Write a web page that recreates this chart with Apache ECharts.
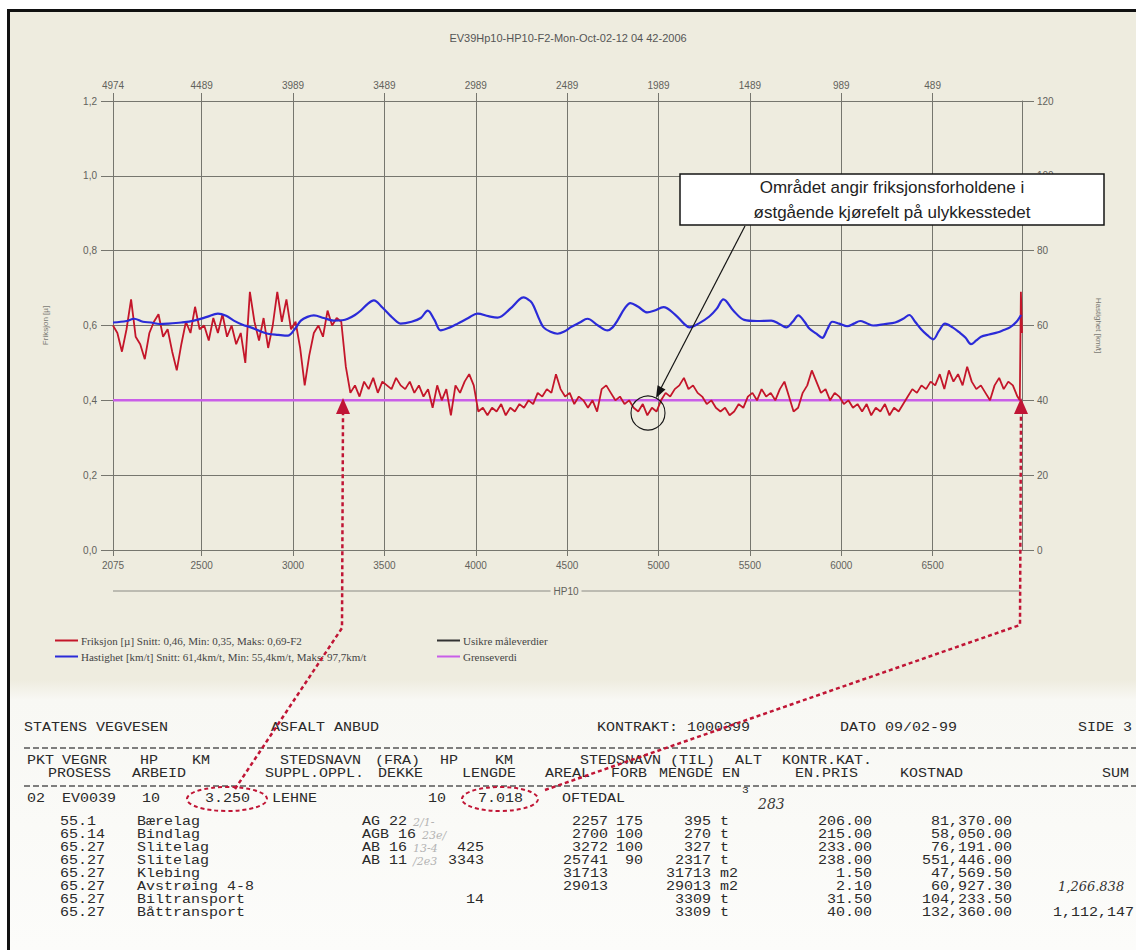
<!DOCTYPE html>
<html><head><meta charset="utf-8">
<script src="https://cdn.jsdelivr.net/npm/echarts@6/dist/echarts.min.js"></script>
<style>
html,body{margin:0;padding:0;width:1136px;height:950px;overflow:hidden;background:#fff;}
#paper{position:absolute;left:7px;top:9px;width:1129px;height:941px;border-left:3px solid #111;border-top:3px solid #111;box-sizing:border-box;background:linear-gradient(to bottom,#eeecdf 0px,#eeecdf 668px,#f8f8f4 688px,#fcfcfa 100%);}
#chart{position:absolute;left:0;top:0;width:1136px;height:950px;}
</style></head><body><div id="paper"></div><div id="chart"></div>
<script>
// ---------------- DATA ----------------
const chartTitle = 'EV39Hp10-HP10-F2-Mon-Oct-02-12 04 42-2006';
const topDistTicks = [4974, 4489, 3989, 3489, 2989, 2489, 1989, 1489, 989, 489];
const hpTickLabels = ['2075','2500','3000','3500','4000','4500','5000','5500','6000','6500'];
const distMin = 0, distMax = 4974;
const frictionAxis = {min:0, max:1.2, step:0.2};
const speedAxis = {min:0, max:120, step:20};
const seriesNames = [
  'Friksjon [µ] Snitt: 0,46, Min: 0,35, Maks: 0,69-F2',
  'Hastighet [km/t] Snitt: 61,4km/t, Min: 55,4km/t, Maks: 97,7km/t',
  'Usikre måleverdier',
  'Grenseverdi'
];
const axisNames = ['Friksjon [µ]', 'Hastighet [km/t]', 'HP10'];
const limitValue = 0.4;

// [distance, friction µ]
const friction = [
[4974,0.60],[4950,0.58],[4925,0.53],[4900,0.59],[4875,0.67],[4850,0.57],[4825,0.55],[4800,0.51],[4775,0.58],[4750,0.61],
[4725,0.63],[4700,0.57],[4675,0.59],[4650,0.53],[4625,0.48],[4600,0.55],[4575,0.61],[4550,0.58],[4525,0.65],[4500,0.59],
[4475,0.60],[4450,0.56],[4425,0.62],[4400,0.58],[4375,0.63],[4350,0.57],[4325,0.60],[4300,0.55],[4275,0.58],[4250,0.50],
[4225,0.69],[4200,0.61],[4175,0.56],[4150,0.62],[4125,0.54],[4100,0.60],[4075,0.69],[4050,0.61],[4025,0.67],[4000,0.59],
[3975,0.61],[3950,0.54],[3925,0.44],[3900,0.52],[3875,0.58],[3850,0.60],[3825,0.57],[3800,0.64],[3775,0.60],[3750,0.62],
[3725,0.61],[3700,0.49],[3675,0.42],[3650,0.44],[3625,0.41],[3600,0.45],[3575,0.43],[3550,0.46],[3525,0.42],[3500,0.45],
[3475,0.44],[3450,0.43],[3425,0.46],[3400,0.44],[3375,0.43],[3350,0.45],[3325,0.42],[3300,0.44],[3275,0.41],[3250,0.43],
[3225,0.38],[3200,0.44],[3175,0.40],[3150,0.43],[3125,0.36],[3100,0.44],[3075,0.42],[3050,0.45],[3025,0.47],[3000,0.44],
[2975,0.37],[2950,0.38],[2925,0.36],[2900,0.38],[2875,0.37],[2850,0.39],[2825,0.36],[2800,0.38],[2775,0.37],[2750,0.39],
[2725,0.38],[2700,0.40],[2675,0.39],[2650,0.42],[2625,0.41],[2600,0.43],[2575,0.42],[2550,0.47],[2525,0.43],[2500,0.41],
[2475,0.42],[2450,0.39],[2425,0.41],[2400,0.40],[2375,0.38],[2350,0.40],[2325,0.37],[2300,0.43],[2275,0.44],[2250,0.42],
[2225,0.40],[2200,0.41],[2175,0.39],[2150,0.40],[2125,0.38],[2100,0.37],[2075,0.39],[2050,0.36],[2025,0.38],[2000,0.37],
[1975,0.40],[1950,0.42],[1925,0.41],[1900,0.43],[1875,0.44],[1850,0.46],[1825,0.43],[1800,0.44],[1775,0.42],[1750,0.41],
[1725,0.39],[1700,0.40],[1675,0.38],[1650,0.37],[1625,0.38],[1600,0.36],[1575,0.37],[1550,0.39],[1525,0.38],[1500,0.41],
[1475,0.42],[1450,0.40],[1425,0.43],[1400,0.41],[1375,0.42],[1350,0.40],[1325,0.43],[1300,0.45],[1275,0.41],[1250,0.37],
[1225,0.38],[1200,0.42],[1175,0.44],[1150,0.48],[1125,0.45],[1100,0.42],[1075,0.43],[1050,0.40],[1025,0.42],[1000,0.41],
[975,0.39],[950,0.40],[925,0.38],[900,0.39],[875,0.37],[850,0.39],[825,0.36],[800,0.38],[775,0.37],[750,0.39],
[725,0.36],[700,0.38],[675,0.37],[650,0.39],[625,0.41],[600,0.43],[575,0.42],[550,0.44],[525,0.43],[500,0.45],
[475,0.44],[450,0.47],[425,0.43],[400,0.48],[375,0.45],[350,0.47],[325,0.44],[300,0.49],[275,0.45],[250,0.43],
[225,0.44],[200,0.42],[175,0.40],[150,0.44],[125,0.46],[100,0.43],[75,0.45],[50,0.44],[25,0.41],[12,0.40],
[6,0.69],[0,0.58]
];

// [distance, speed km/t]
const speed = [
[4974,60.8],[4900,61.2],[4859,61.8],[4810,61.0],[4766,60.8],[4720,60.4],[4673,60.5],[4600,60.8],[4531,61.3],[4460,62.3],
[4400,63.2],[4355,62.6],[4313,61.3],[4265,60.2],[4220,59.5],[4170,58.5],[4127,57.8],[4070,57.5],[4017,57.3],[3980,59.0],
[3946,61.3],[3910,62.3],[3875,62.7],[3820,62.0],[3766,61.3],[3720,61.4],[3689,61.8],[3650,62.8],[3618,64.0],[3580,65.8],
[3547,66.7],[3500,64.8],[3454,62.5],[3420,61.0],[3400,60.5],[3340,61.0],[3290,62.0],[3252,64.0],[3215,61.5],[3181,58.7],
[3130,59.5],[3088,60.5],[3030,62.0],[2979,63.2],[2920,62.5],[2870,62.1],[2800,64.5],[2750,67.0],[2728,67.5],[2690,66.5],
[2673,65.3],[2640,61.5],[2618,59.5],[2580,58.3],[2542,57.8],[2500,58.5],[2471,59.5],[2420,60.8],[2378,61.8],[2320,60.0],
[2268,58.7],[2240,59.5],[2214,61.3],[2175,64.5],[2143,66.0],[2100,65.0],[2050,63.5],[2010,64.0],[1962,64.9],[1900,63.0],
[1850,60.5],[1820,59.5],[1770,60.5],[1711,62.4],[1670,64.5],[1634,67.0],[1580,64.0],[1520,61.5],[1450,61.2],[1372,61.3],
[1330,60.5],[1290,59.5],[1255,61.0],[1224,62.7],[1190,61.0],[1164,59.2],[1125,57.8],[1093,56.7],[1065,59.0],[1038,61.0],
[1000,60.5],[956,59.8],[920,60.5],[885,61.2],[850,60.6],[814,60.0],[750,60.4],[694,60.8],[650,61.8],[617,62.8],
[585,61.0],[552,59.0],[520,57.5],[486,56.3],[455,58.5],[421,60.5],[380,59.5],[344,58.2],[310,56.8],[279,55.0],
[250,56.0],[224,57.0],[180,57.6],[131,58.2],[100,58.8],[66,59.5],[30,61.0],[5,62.8]
];

const noteLines = ['Området angir friksjonsforholdene i', 'østgående kjørefelt på ulykkesstedet'];

// table texts
const pageHeader = ['STATENS VEGVESEN','ASFALT ANBUD','KONTRAKT: 1000399','DATO 09/02-99','SIDE 3'];
const colHead1 = ['PKT','VEGNR','HP','KM','STEDSNAVN','(FRA)','HP','KM','STEDSNAVN','(TIL)','ALT','KONTR.KAT.'];
const colHead2 = ['PROSESS','ARBEID','SUPPL.OPPL.','DEKKE','LENGDE','AREAL','FORB','MENGDE EN','EN.PRIS','KOSTNAD','SUM'];
const mainRow = ['02','EV0039','10','3.250','LEHNE','10','7.018','OFTEDAL'];
const mainRowAlt = '3';
const mainRowHand = '283';
const itemCodes = ['55.1','65.14','65.27','65.27','65.27','65.27','65.27','65.27'];
const itemNames = ['Bærelag','Bindlag','Slitelag','Slitelag','Klebing','Avstrøing 4-8','Biltransport','Båttransport'];
const dekke = ['AG 22','AGB 16','AB 16','AB 11','','','',''];
const dekkeNotes = ['2/1-','23e/','13-4','/2e3','','','',''];
const hpCol = ['','','425','3343','','','14',''];
const areal = ['2257','2700','3272','25741','31713','29013','',''];
const forb = ['175','100','100','90','','','',''];
const mengde = ['395','270','327','2317','31713','29013','3309','3309'];
const enhet = ['t','t','t','t','m2','m2','t','t'];
const enPris = ['206.00','215.00','233.00','238.00','1.50','2.10','31.50','40.00'];
const kostnad = ['81,370.00','58,050.00','76,191.00','551,446.00','47,569.50','60,927.30','104,233.50','132,360.00'];
const sumCol = ['','','','','','','','1,112,147'];
const handSum = ['','','','','','1,266.838','',''];

// ---------------- LAYOUT ----------------
const narrow = '"Liberation Sans Narrow","Liberation Sans",Arial,sans-serif';
const mono = '"Liberation Mono","Courier New",monospace';
const hand = '"DejaVu Serif",serif';
const AX = '#76766e';
const LBL = '#62625c';
const RED = '#c4162a';
const BLUE = '#2b2bd8';
const MAG = '#c95ee8';
const ARROW_RED = '#c01535';
const TXT = '#2a2a2a';
const MONO_SIZE = 12, MONO_SX = 1.25;

const g = [];
function txt(text, x, y, o) {
  if (!text) return;
  g.push({type:'text', z:50, x, y, scaleX:MONO_SX,
    style:Object.assign({text, x:0, y:0, fontSize:MONO_SIZE, fontFamily:mono, fill:TXT, align:'left', verticalAlign:'middle'}, o || {})});
}
function handTxt(text, x, y, size, color) {
  if (!text) return;
  g.push({type:'text', z:50, style:{text, x, y, fontSize:size, fontFamily:hand, fontStyle:'italic', fill:color, align:'left', verticalAlign:'middle'}});
}
// page header
[24, 271, 597, 840, 1078].forEach((x,i)=>txt(pageHeader[i], x, 728));
// dashed rules
[748, 786].forEach(y=>g.push({type:'line', z:40, shape:{x1:24,y1:y,x2:1136,y2:y}, style:{stroke:'#555', lineWidth:1.3, lineDash:[6,3]}}));
[27,62,140,192,280,375,440,495,580,670,735,782].forEach((x,i)=>txt(colHead1[i], x, 761));
[48,132,265,378,462,545,611,659,795,900,1102].forEach((x,i)=>txt(colHead2[i], x, 774));
[27,62,142,205,272,428,478,562].forEach((x,i)=>txt(mainRow[i], x, 799));
txt(mainRowAlt, 742, 791, {fontSize:9});
handTxt(mainRowHand, 758, 804, 14, '#3a3a3a');
for (let i = 0; i < itemCodes.length; i++) {
  const y = 822 + 13 * i;
  txt(itemCodes[i], 60, y);
  txt(itemNames[i], 137, y);
  txt(dekke[i], 362, y);
  if (dekkeNotes[i]) handTxt(dekkeNotes[i], 362 + dekke[i].length * 9 + 6, y, 11, '#b4b4b4');
  txt(hpCol[i], 484, y, {align:'right'});
  txt(areal[i], 608, y, {align:'right'});
  txt(forb[i], 643, y, {align:'right'});
  txt(mengde[i], 711, y, {align:'right'});
  txt(enhet[i], 720, y);
  txt(enPris[i], 872, y, {align:'right'});
  txt(kostnad[i], 1012, y, {align:'right'});
  txt(sumCol[i], 1134, y, {align:'right'});
  handTxt(handSum[i], 1058, y - 1, 13, '#333');
}
// HP10 bracket line under the bottom axis
g.push({type:'line', z:5, shape:{x1:113,y1:591,x2:1020,y2:591}, style:{stroke:'#8a8a84', lineWidth:1}});
g.push({type:'text', z:6, style:{text:axisNames[2], x:566, y:591, fontSize:10, fontFamily:narrow, fill:LBL, align:'center', verticalAlign:'middle', backgroundColor:'#eeecdf', padding:[0,3]}});
// annotation box, arrow and circle
g.push({type:'rect', z:100, shape:{x:680,y:174,width:424,height:51}, style:{fill:'#ffffff', stroke:'#151515', lineWidth:1.5}});
noteLines.forEach((s,i)=>g.push({type:'text', z:101, style:{text:s, x:892, y:187 + 25*i, fontSize:17, fontFamily:'"Liberation Sans",Arial,sans-serif', fill:'#222', align:'center', verticalAlign:'middle'}}));
g.push({type:'line', z:100, shape:{x1:745,y1:226,x2:660,y2:390}, style:{stroke:'#151515', lineWidth:1.2}});
g.push({type:'polygon', z:100, shape:{points:[[656,398],[665.5,389.4],[657.5,385.2]]}, style:{fill:'#151515'}});
g.push({type:'circle', z:100, shape:{cx:648,cy:413,r:17}, style:{fill:'none', stroke:'#151515', lineWidth:1.1}});
// red dashed pointers from the table to the chart
[[[235,789],[342,628],[343,414]], [[545,790],[1020,625],[1021,414]]].forEach(pts=>{
  g.push({type:'polyline', z:60, shape:{points:pts}, style:{stroke:ARROW_RED, lineWidth:2.5, lineDash:[4,3], fill:'none'}});
  const x = pts[2][0];
  g.push({type:'polygon', z:60, shape:{points:[[x,398],[x+7,414],[x-7,414]]}, style:{fill:ARROW_RED}});
});
[[227,799,40,12],[500,799,38,12]].forEach(e=>g.push({type:'ellipse', z:60, shape:{cx:e[0],cy:e[1],rx:e[2],ry:e[3]}, style:{fill:'none', stroke:ARROW_RED, lineWidth:2, lineDash:[4,3]}}));

const comma = v => v.toFixed(1).replace('.', ',');
const labelStyle = {color:LBL, fontSize:10, fontFamily:narrow};
const legendText = {fontSize:11, fontFamily:'"Liberation Serif",serif', color:'#444', padding:[0,0,0,-2]};

const option = {
  animation:false,
  backgroundColor:'transparent',
  title:{text:chartTitle, left:'center', top:27, textStyle:{fontSize:11, fontWeight:'normal', color:'#555', fontFamily:narrow}},
  grid:{left:113, top:101, width:909, height:449, containLabel:false},
  legend:[
    {data:[seriesNames[0], seriesNames[1]], left:50, top:630, orient:'vertical', icon:'rect', itemWidth:23, itemHeight:2, itemGap:5, textStyle:legendText},
    {data:[seriesNames[2], seriesNames[3]], left:432, top:630, orient:'vertical', icon:'rect', itemWidth:23, itemHeight:2, itemGap:5, textStyle:legendText}
  ],
  xAxis:[
    {type:'value', position:'top', min:distMin, max:distMax, inverse:true,
     axisLine:{onZero:false, lineStyle:{color:AX}},
     axisTick:{customValues:topDistTicks, length:8, lineStyle:{color:AX}},
     axisLabel:Object.assign({customValues:topDistTicks, margin:11, formatter:v=>String(Math.round(v))}, labelStyle),
     splitLine:{show:true, lineStyle:{color:AX, width:1}}},
    {type:'value', position:'bottom', min:distMin, max:distMax, inverse:true,
     axisLine:{onZero:false, lineStyle:{color:AX}},
     axisTick:{customValues:topDistTicks, length:6, lineStyle:{color:AX}},
     axisLabel:Object.assign({customValues:topDistTicks, margin:10,
       formatter:v=>{const i = topDistTicks.indexOf(Math.round(v)); return i >= 0 ? hpTickLabels[i] : '';}}, labelStyle),
     splitLine:{show:false}}
  ],
  yAxis:[
    {type:'value', position:'left', min:frictionAxis.min, max:frictionAxis.max, interval:frictionAxis.step,
     name:axisNames[0], nameLocation:'middle', nameGap:64, nameRotate:90,
     nameTextStyle:{fontSize:8, color:'#7a7a74', fontFamily:narrow},
     axisLine:{show:true, onZero:false, lineStyle:{color:AX}},
     axisTick:{show:true, length:12, lineStyle:{color:AX}},
     axisLabel:Object.assign({formatter:comma, margin:16}, labelStyle),
     splitLine:{show:true, lineStyle:{color:AX, width:1}}},
    {type:'value', position:'right', min:speedAxis.min, max:speedAxis.max, interval:speedAxis.step,
     name:axisNames[1], nameLocation:'middle', nameGap:72, nameRotate:-90,
     nameTextStyle:{fontSize:8, color:'#7a7a74', fontFamily:narrow},
     axisLine:{show:true, onZero:false, lineStyle:{color:AX}},
     axisTick:{show:true, length:12, lineStyle:{color:AX}},
     axisLabel:Object.assign({margin:15}, labelStyle),
     splitLine:{show:false}}
  ],
  series:[
    {name:seriesNames[3], type:'line', xAxisIndex:0, yAxisIndex:0, data:[[distMax, limitValue],[distMin, limitValue]],
     symbol:'none', color:MAG, itemStyle:{color:MAG}, lineStyle:{color:MAG, width:2.5}, z:2},
    {name:seriesNames[0], type:'line', xAxisIndex:0, yAxisIndex:0, data:friction,
     symbol:'none', color:RED, itemStyle:{color:RED}, lineStyle:{color:RED, width:1.8}, z:3},
    {name:seriesNames[1], type:'line', xAxisIndex:0, yAxisIndex:1, data:speed, smooth:0.35,
     symbol:'none', color:BLUE, itemStyle:{color:BLUE}, lineStyle:{color:BLUE, width:2.2}, z:4},
    {name:seriesNames[2], type:'line', xAxisIndex:0, yAxisIndex:0, data:[],
     symbol:'none', color:'#333', itemStyle:{color:'#333'}, lineStyle:{color:'#333', width:2}, z:1}
  ],
  graphic:g
};
const chart = echarts.init(document.getElementById('chart'), null, {renderer:'svg'});
chart.setOption(option);
</script></body></html>
